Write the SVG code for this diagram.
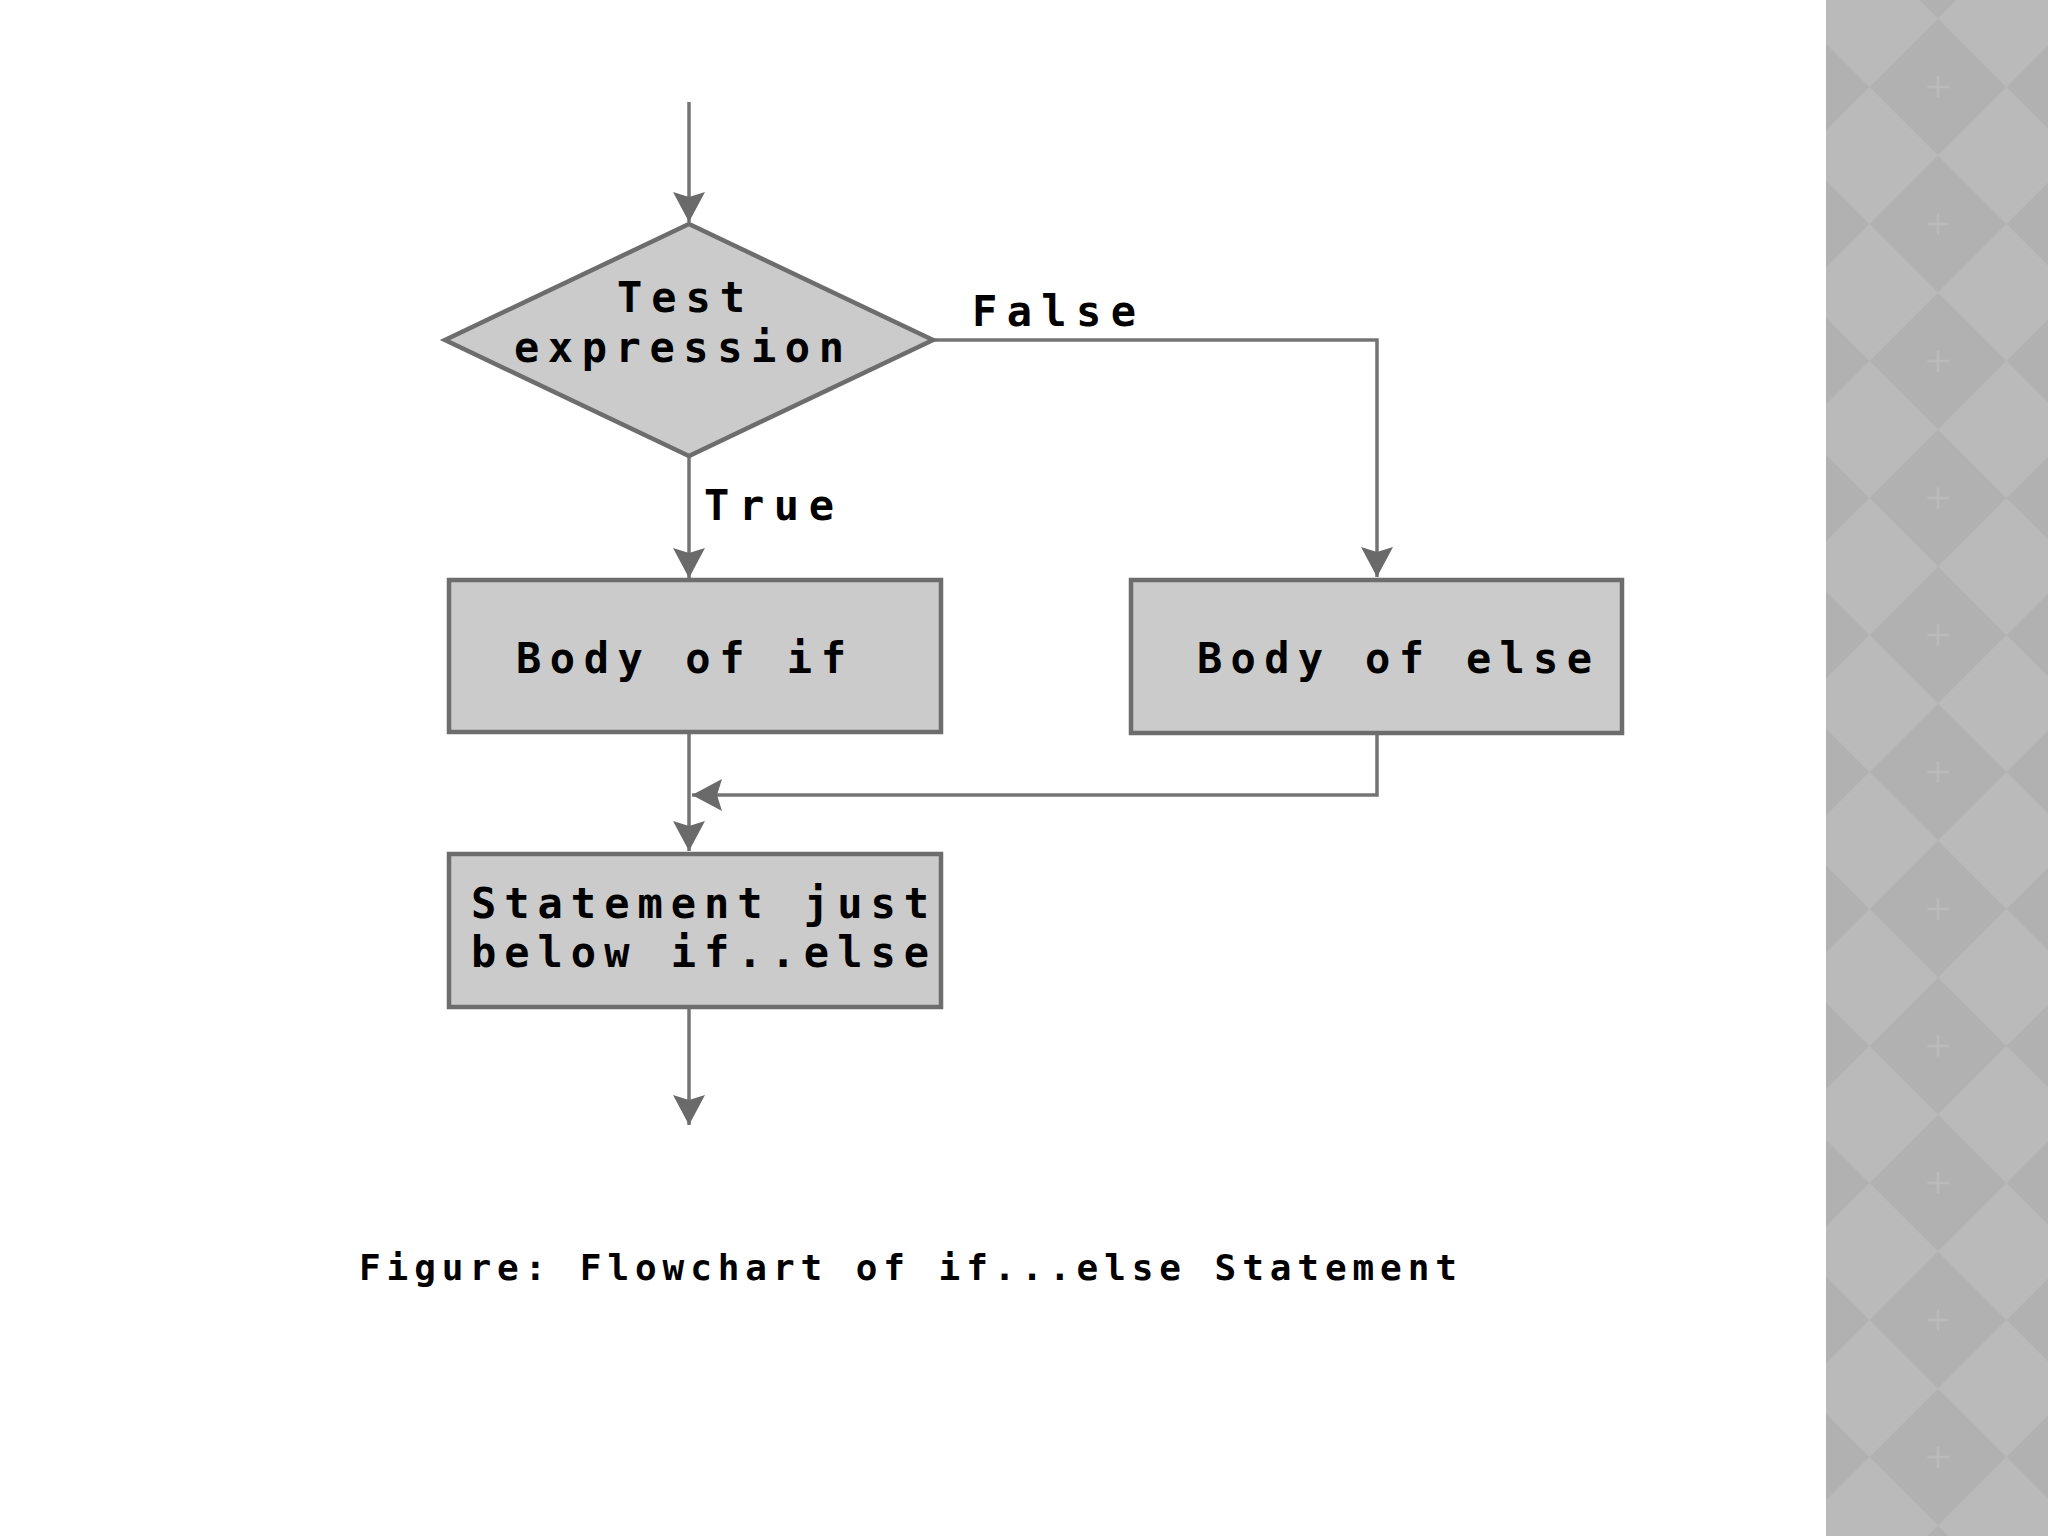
<svg xmlns="http://www.w3.org/2000/svg" width="2048" height="1536" viewBox="0 0 2048 1536">
  <style>
    .node { fill: #cbcbcb; stroke: #6d6d6d; stroke-width: 4.5; }
    .lbl { font-family: "DejaVu Sans Mono", "Liberation Mono", monospace; font-weight: bold; font-size: 42px; fill: #000; }
    .cap { font-family: "DejaVu Sans Mono", "Liberation Mono", monospace; font-weight: bold; font-size: 36px; fill: #000; }
    .conn { fill: none; stroke: #747474; stroke-width: 3.5; }
  </style>
  <defs>
    <marker id="arrow" markerUnits="userSpaceOnUse" viewBox="-32 -19 34 38" markerWidth="34" markerHeight="38" refX="0" refY="0" orient="auto">
      <path d="M0,0 L-30,-16 L-25,0 L-30,16 Z" fill="#6a6a6a"/>
    </marker>
    <pattern id="chk" patternUnits="userSpaceOnUse" x="1869.5" y="18.5" width="137" height="137">
      <rect width="137" height="137" fill="#bababa"/>
      <polygon points="68.5,0 137,68.5 68.5,137 0,68.5" fill="#b1b1b1"/>
      <path d="M58,68.5 H79 M68.5,58 V79" stroke="#bdbdbd" stroke-width="2"/>
    </pattern>
  </defs>
  <rect width="2048" height="1536" fill="#ffffff"/>
  <rect x="1826" y="0" width="222" height="1536" fill="url(#chk)"/>

  <g id="connectors">
    <path class="conn" d="M689,102 V222" marker-end="url(#arrow)"/>
    <path class="conn" d="M689,456 V578" marker-end="url(#arrow)"/>
    <path class="conn" d="M933,340 H1377 V577" marker-end="url(#arrow)"/>
    <path class="conn" d="M689,732 V851" marker-end="url(#arrow)"/>
    <path class="conn" d="M1377,733 V795 H692" marker-end="url(#arrow)"/>
    <path class="conn" d="M689,1007 V1125" marker-end="url(#arrow)"/>
    <text class="lbl" x="972" y="326" textLength="164" lengthAdjust="spacing">False</text>
    <text class="lbl" x="704" y="520" textLength="130" lengthAdjust="spacing">True</text>
  </g>

  <g id="test-expression">
    <polygon class="node" points="689,224 933,340 689,456 445,340"/>
    <text class="lbl" x="617" y="312" textLength="128" lengthAdjust="spacing">Test</text>
    <text class="lbl" x="514" y="362" textLength="330" lengthAdjust="spacing">expression</text>
  </g>

  <g id="body-of-if">
    <rect class="node" x="449" y="580" width="492" height="152"/>
    <text class="lbl" x="516" y="673" textLength="330" lengthAdjust="spacing">Body of if</text>
  </g>

  <g id="body-of-else">
    <rect class="node" x="1131" y="580" width="491" height="153"/>
    <text class="lbl" x="1197" y="673" textLength="395" lengthAdjust="spacing">Body of else</text>
  </g>

  <g id="statement">
    <rect class="node" x="449" y="854" width="492" height="153"/>
    <text class="lbl" x="471" y="918" textLength="458" lengthAdjust="spacing">Statement just</text>
    <text class="lbl" x="471" y="967" textLength="458" lengthAdjust="spacing">below if..else</text>
  </g>

  <g id="caption">
    <text class="cap" x="359" y="1280" textLength="1098" lengthAdjust="spacing">Figure: Flowchart of if...else Statement</text>
  </g>
</svg>
